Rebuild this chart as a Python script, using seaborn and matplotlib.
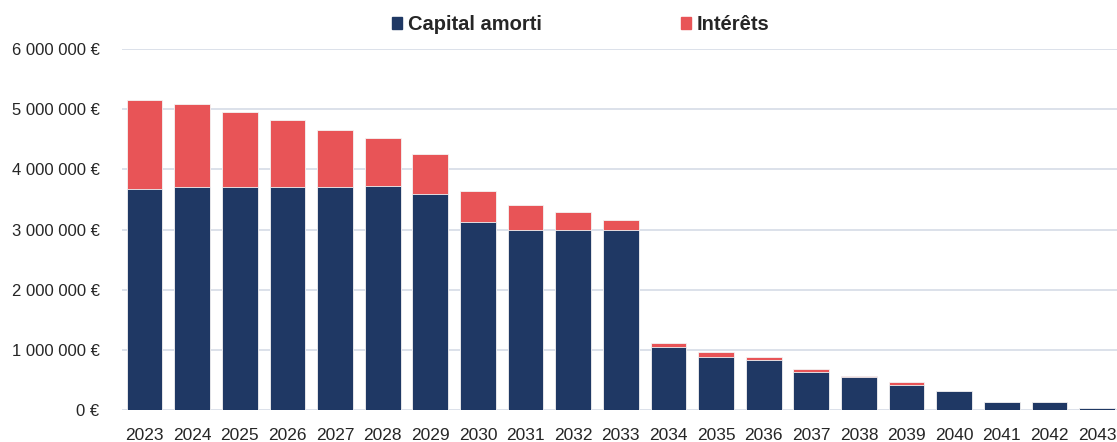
import matplotlib
matplotlib.use("Agg")
import matplotlib.pyplot as plt
import seaborn as sns
import pandas as pd
from matplotlib.patches import Patch
from matplotlib.ticker import FuncFormatter

# valeurs (en euros)
annees = [str(a) for a in range(2023, 2044)]
capital = [3.68e6, 3.70e6, 3.70e6, 3.70e6, 3.70e6, 3.73e6, 3.59e6, 3.12e6, 3.00e6, 3.00e6, 3.00e6,
           1.04e6, 0.88e6, 0.83e6, 0.63e6, 0.543e6, 0.42e6, 0.32e6, 0.138e6, 0.138e6, 0.028e6]
interets = [1.48e6, 1.39e6, 1.26e6, 1.12e6, 0.96e6, 0.79e6, 0.66e6, 0.52e6, 0.41e6, 0.29e6, 0.16e6,
            0.073e6, 0.078e6, 0.055e6, 0.05e6, 0.022e6, 0.04e6, 0.0, 0.0, 0.0, 0.0]

c_bleu = "#1F3864"
c_rouge = "#E85457"

df = pd.DataFrame({"annee": annees, "capital": capital, "interets": interets})
df["total"] = df["capital"] + df["interets"]

sns.set_style("white")
plt.rcParams["font.family"] = ["Liberation Sans", "DejaVu Sans"]

fig = plt.figure(figsize=(11.17, 4.42), dpi=100)
ax = fig.add_axes([0.109, 0.0724, 0.891, 0.8167])

sns.barplot(data=df, x="annee", y="total", color=c_rouge, saturation=1, width=0.75,
            edgecolor="#f4f4f4", linewidth=0.6, ax=ax)
sns.barplot(data=df, x="annee", y="capital", color=c_bleu, saturation=1, width=0.75,
            edgecolor="#f4f4f4", linewidth=0.6, ax=ax)

ax.set_ylim(0, 6e6)
ax.set_xlim(-0.48, 20.42)
ax.set_yticks([i * 1e6 for i in range(7)])
ax.yaxis.set_major_formatter(FuncFormatter(lambda v, p: f"{int(v):,}".replace(",", " ") + " €"))
ax.grid(axis="y", color="#D6DCE6", linewidth=1.2)
ax.set_axisbelow(True)
for s in ax.spines.values():
    s.set_visible(False)
ax.tick_params(axis="both", length=0, labelsize=12, colors="#262626")
ax.tick_params(axis="y", pad=16)
ax.tick_params(axis="x", pad=13, labelsize=12.5)
ax.set_xlabel("")
ax.set_ylabel("")

handles = [Patch(color=c_bleu, label="Capital amorti"), Patch(color=c_rouge, label="Intérêts")]
fig.legend(handles=handles, loc="center", bbox_to_anchor=(0.52, 0.944), ncol=2, frameon=False,
           prop={"weight": "bold", "size": 14.5}, handlelength=0.5, handleheight=0.5,
           handletextpad=0.3, columnspacing=6.9)

fig.savefig("out.png", dpi=100)
